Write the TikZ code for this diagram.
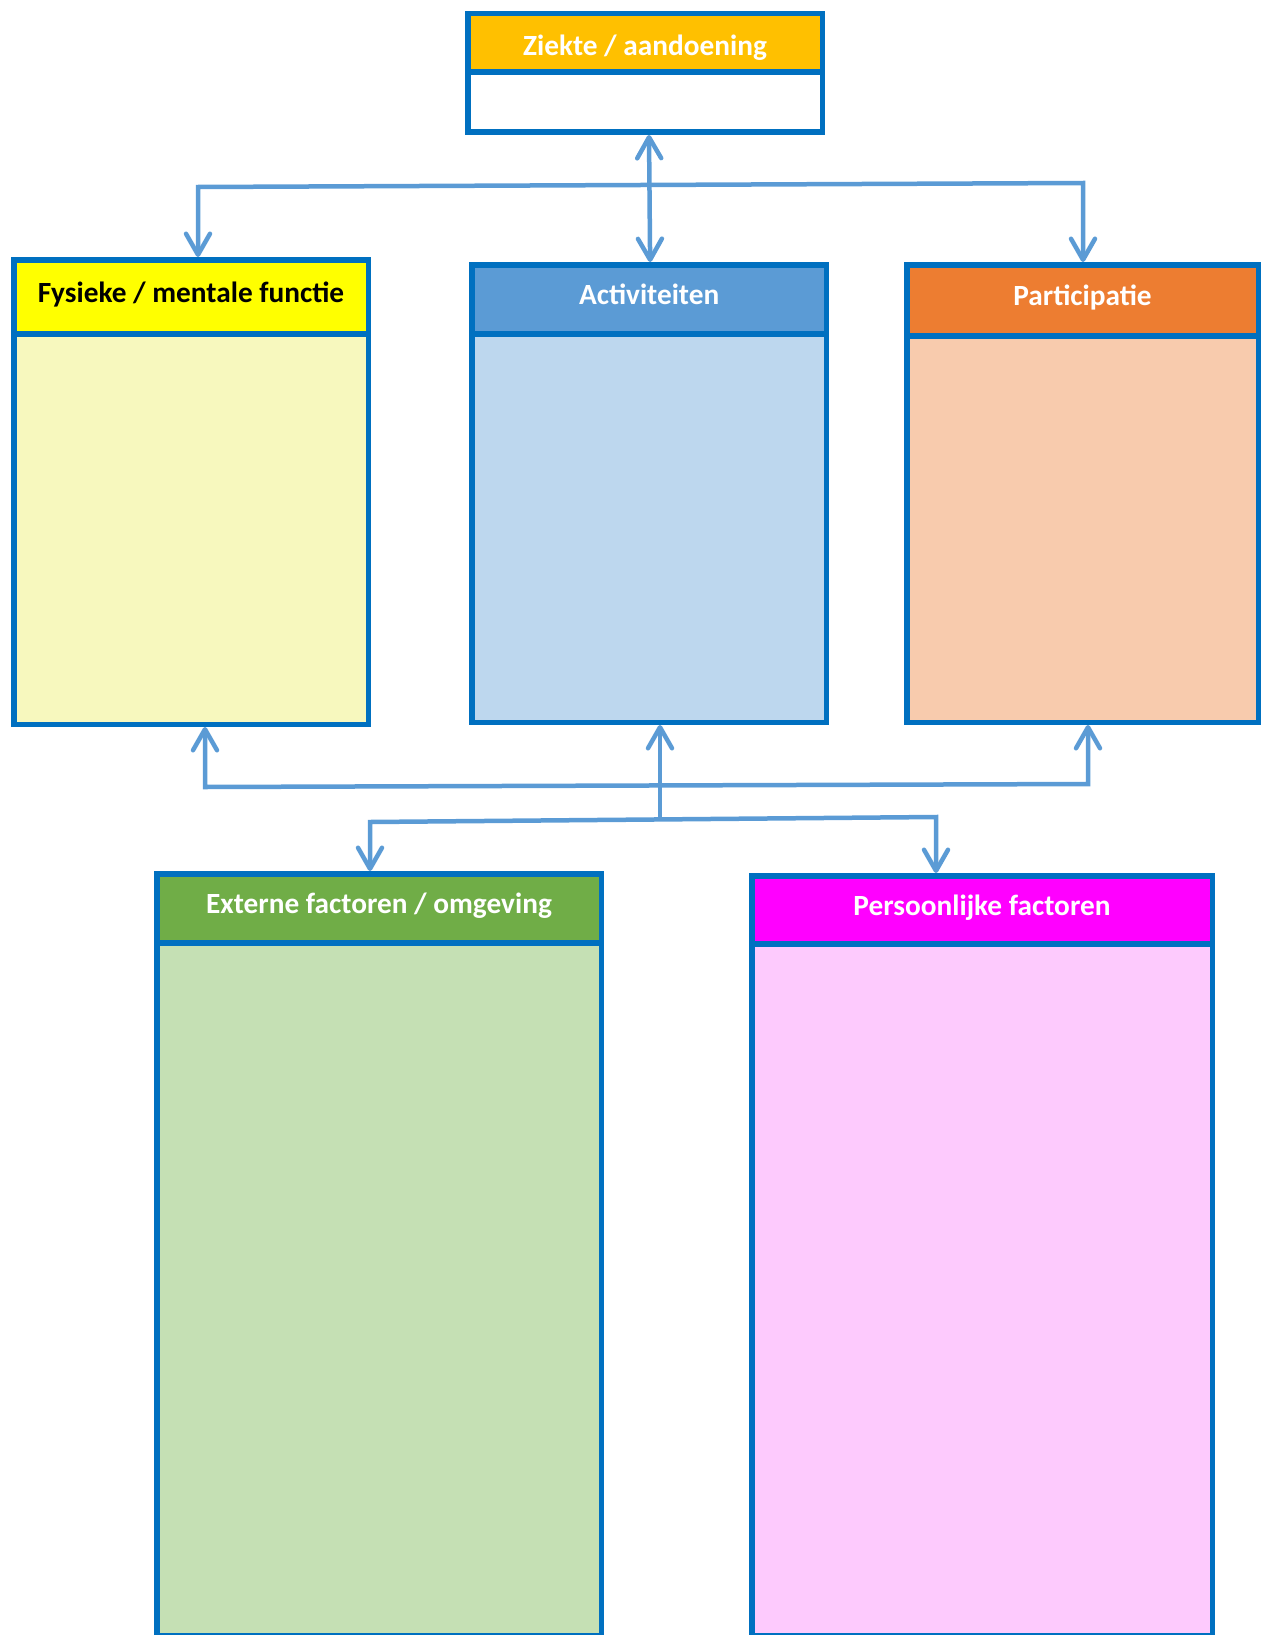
\documentclass[tikz,border=0pt]{standalone}
\usepackage{fontspec}
\setmainfont{Carlito}
\usetikzlibrary{arrows.meta}
\definecolor{bordc}{HTML}{0070C0}
\definecolor{connc}{HTML}{5B9BD5}
\definecolor{zkhc}{HTML}{FFC000}
\definecolor{fyhc}{HTML}{FFFF00}
\definecolor{fybc}{HTML}{F7F8BE}
\definecolor{achc}{HTML}{5B9BD5}
\definecolor{acbc}{HTML}{BDD7EE}
\definecolor{pahc}{HTML}{ED7D31}
\definecolor{pabc}{HTML}{F8CBAD}
\definecolor{exhc}{HTML}{70AD47}
\definecolor{exbc}{HTML}{C5E0B4}
\definecolor{pehc}{HTML}{FF00FF}
\definecolor{pebc}{HTML}{FDCAFD}
\tikzset{
  boxbody/.style={draw=bordc, line width=5.5pt, rectangle, inner sep=0pt},
  boxhead/.style={draw=bordc, line width=5.5pt, rectangle, inner sep=0pt,
    font=\fontsize{29.3}{35}\selectfont\bfseries, text=white,
    text height=19pt, text depth=8pt},
  conn/.style={draw=connc, line width=4.5pt,
    arrows={Straight Barb[length=21pt,width=24pt,round]-Straight Barb[length=21pt,width=24pt,round]}},
  connend/.style={draw=connc, line width=4.5pt,
    arrows={-Straight Barb[length=21pt,width=24pt,round]}}
}
\begin{document}
\begin{tikzpicture}[x=1pt,y=-1pt]
\useasboundingbox (0,0) rectangle (1262,1635);
% Ziekte / aandoening
\node[boxbody, fill=white, minimum width=354.5pt, minimum height=118.5pt] (zk) at (645,73) {};
\node[boxhead, fill=zkhc, minimum width=354.5pt, minimum height=58.25pt] (zkh) at (645,42.875) {\raisebox{-7.5pt}{Ziekte / aandoening}};
% Fysieke / mentale functie
\node[boxbody, fill=fybc, minimum width=354.5pt, minimum height=464.5pt] (fy) at (191,492) {};
\node[boxhead, fill=fyhc, text=black, minimum width=354.5pt, minimum height=74.25pt] (fyh) at (191,296.875) {Fysieke / mentale functie};
% Activiteiten
\node[boxbody, fill=acbc, minimum width=354.25pt, minimum height=457.5pt] (ac) at (649.125,493.5) {};
\node[boxhead, fill=achc, minimum width=354.25pt, minimum height=69.25pt] (ach) at (649.125,299.375) {Activiteiten};
% Participatie
\node[boxbody, fill=pabc, minimum width=351.5pt, minimum height=457.5pt] (pa) at (1082.5,493.5) {};
\node[boxhead, fill=pahc, minimum width=351.5pt, minimum height=71.25pt] (pah) at (1082.5,300.375) {Participatie};
% Externe factoren / omgeving
\node[boxbody, fill=exbc, minimum width=444.5pt, minimum height=762.25pt] (ex) at (379,1254.875) {};
\node[boxhead, fill=exhc, minimum width=444.5pt, minimum height=69.25pt] (exh) at (379,908.375) {Externe factoren / omgeving};
% Persoonlijke factoren
\node[boxbody, fill=pebc, minimum width=460.5pt, minimum height=760.25pt] (pe) at (982,1255.875) {};
\node[boxhead, fill=pehc, minimum width=460.5pt, minimum height=68.25pt] (peh) at (982,909.875) {Persoonlijke factoren};
% connector points
\coordinate (tl) at (198,187);
\coordinate (tr) at (1083,183);
\coordinate (bl) at (205,787);
\coordinate (br) at (1088,784);
\coordinate (bc) at (660,820);
\coordinate (ll) at (370,822);
\coordinate (lr) at (936,817);
% connectors
\draw[conn] (tl |- fyh.north) -- (tl) -- (tr) -- (tr |- pah.north);
\draw[conn] ([xshift=4pt]zk.south) -- ([xshift=1pt]ach.north);
\draw[conn] (bl |- fy.south) -- (bl) -- (br) -- (br |- pa.south);
\draw[conn] (ll |- exh.north) -- (ll) -- (lr) -- (lr |- peh.north);
\draw[connend] (bc) -- (bc |- ac.south);
\end{tikzpicture}
\end{document}
